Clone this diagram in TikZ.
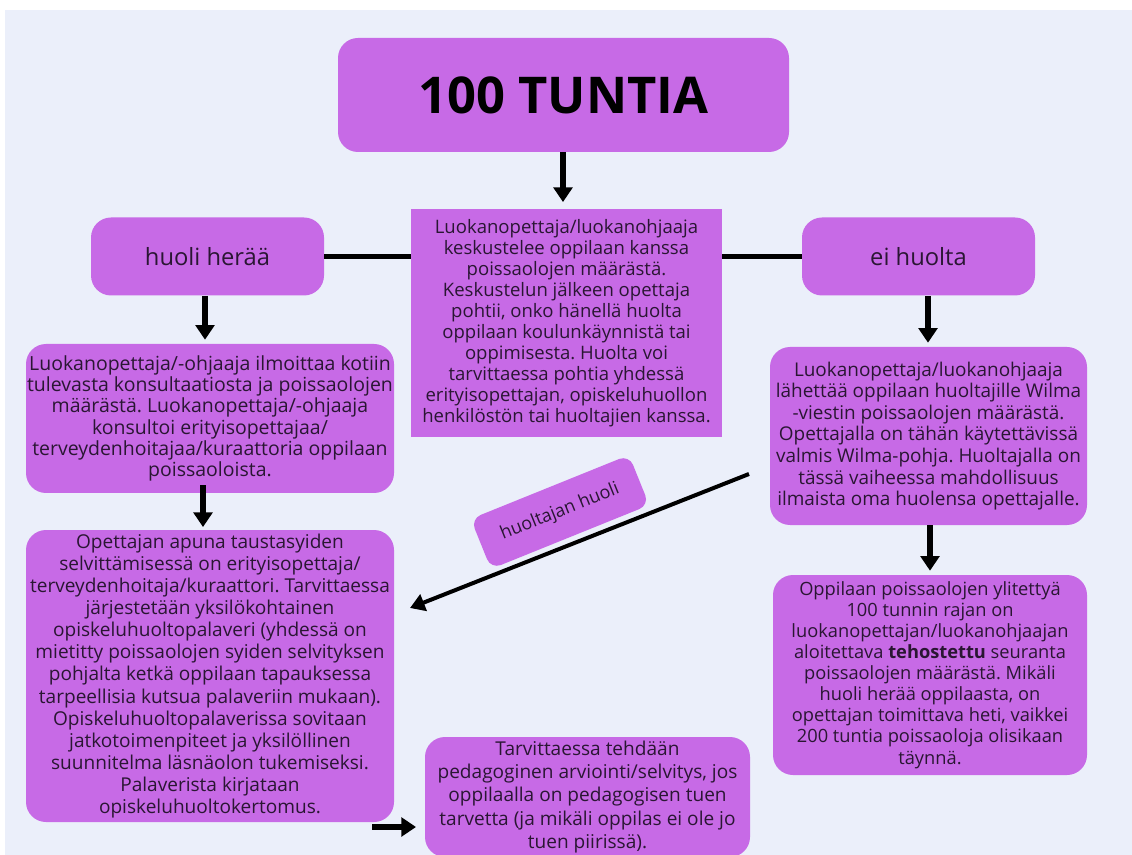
\documentclass[tikz,border=0pt]{standalone}
\usepackage{fontspec}
\setmainfont{Open Sans}
\usetikzlibrary{arrows.meta}
\definecolor{bg}{HTML}{EBEFFA}
\definecolor{boxfill}{HTML}{C76AE6}
\definecolor{txt}{HTML}{2A1633}
\frenchspacing
\tikzset{
  box/.style={fill=boxfill, rounded corners=15pt, align=center, text=txt, inner sep=0pt},
  sqbox/.style={fill=boxfill, align=center, text=txt, inner sep=0pt},
  conn/.style={line width=3.8pt, black},
  arr/.style={line width=3.8pt, black, -{Triangle[width=14pt,length=11pt]}},
  darr/.style={line width=3pt, black, -{Triangle[width=13pt,length=11pt]}},
}
\begin{document}
\begin{tikzpicture}[x=0.75pt,y=-0.75pt]
\useasboundingbox (0,0) rectangle (1132,855);
\fill[white] (0,0) rectangle (1132,855);
\fill[bg] (5,10) rectangle (1132,855);

\node[box, minimum width=338.25pt, minimum height=85.5pt, text=black,
  font={\fontsize{38}{44}\selectfont\bfseries}] (title) at (563.5,95) {100 TUNTIA};

\node[sqbox, minimum width=233.25pt, minimum height=171pt,
  font={\fontsize{13.9}{15.7}\selectfont}] (center) at (566.5,323)
  {Luokanopettaja/luokanohjaaja\\keskustelee oppilaan kanssa\\poissaolojen määrästä.\\Keskustelun jälkeen opettaja\\pohtii, onko hänellä huolta\\oppilaan koulunkäynnistä tai\\oppimisesta. Huolta voi\\tarvittaessa pohtia yhdessä\\erityisopettajan, opiskeluhuollon\\henkilöstön tai huoltajien kanssa.};

\node[box, minimum width=174.75pt, minimum height=58.5pt,
  font={\fontsize{17.8}{20}\selectfont}] (huoli) at (207.5,256.5) {huoli herää};
\node[box, minimum width=174.75pt, minimum height=58.5pt,
  font={\fontsize{17.8}{20}\selectfont}] (ei) at (918.5,256.5) {ei huolta};

\node[box, minimum width=276pt, minimum height=111.75pt,
  font={\fontsize{14.6}{16}\selectfont}] (L1) at (210,418.5)
  {Luokanopettaja/-ohjaaja ilmoittaa kotiin\\tulevasta konsultaatiosta ja poissaolojen\\määrästä. Luokanopettaja/-ohjaaja\\konsultoi erityisopettajaa/\\terveydenhoitajaa/kuraattoria oppilaan\\poissaoloista.};

\node[box, minimum width=276pt, minimum height=219pt,
  font={\fontsize{14.3}{16.6}\selectfont}] (L2) at (210,676)
  {Opettajan apuna taustasyiden\\selvittämisessä on erityisopettaja/\\terveydenhoitaja/kuraattori. Tarvittaessa\\järjestetään yksilökohtainen\\opiskeluhuoltopalaveri (yhdessä on\\mietitty poissaolojen syiden selvityksen\\pohjalta ketkä oppilaan tapauksessa\\tarpeellisia kutsua palaveriin mukaan).\\Opiskeluhuoltopalaverissa sovitaan\\jatkotoimenpiteet ja yksilöllinen\\suunnitelma läsnäolon tukemiseksi.\\Palaverista kirjataan\\opiskeluhuoltokertomus.};

\node[box, minimum width=237.75pt, minimum height=133.5pt,
  font={\fontsize{14.2}{16.2}\selectfont}] (R1) at (928.5,436)
  {Luokanopettaja/luokanohjaaja\\lähettää oppilaan huoltajille Wilma\\-viestin poissaolojen määrästä.\\Opettajalla on tähän käytettävissä\\valmis Wilma-pohja. Huoltajalla on\\tässä vaiheessa mahdollisuus\\ilmaista oma huolensa opettajalle.};

\node[box, minimum width=235.5pt, minimum height=150pt,
  font={\fontsize{13.7}{15.8}\selectfont}] (R2) at (930,675)
  {Oppilaan poissaolojen ylitettyä\\100 tunnin rajan on\\luokanopettajan/luokanohjaajan\\aloitettava \textbf{tehostettu} seuranta\\poissaolojen määrästä. Mikäli\\huoli herää oppilaasta, on\\opettajan toimittava heti, vaikkei\\200 tuntia poissaoloja olisikaan\\täynnä.};

\node[box, minimum width=243.75pt, minimum height=90pt,
  font={\fontsize{14.3}{17.5}\selectfont}] (B) at (587.5,797)
  {Tarvittaessa tehdään\\pedagoginen arviointi/selvitys, jos\\oppilaalla on pedagogisen tuen\\tarvetta (ja mikäli oppilas ei ole jo\\tuen piirissä).};

\node[box, rounded corners=8pt, rotate=22, minimum width=128pt, minimum height=40.5pt,
  font={\fontsize{13.5}{16}\selectfont}] (lab) at (560,512) {huoltajan huoli};

% connectors
\draw[conn] (huoli.east) -- (huoli.east -| center.west);
\draw[conn] (ei.west -| center.east) -- (ei.west);
\draw[arr, shorten >=5pt] (title.south -| 563,0) -- (center.north -| 563,0);
\draw[arr, shorten >=3pt] (huoli.south -| 205,0) -- (L1.north -| 205,0);
\draw[arr, shorten >=2pt, shorten <=-6pt] (L1.south -| 203,0) -- (L2.north -| 203,0);
\draw[arr, shorten >=3pt] (ei.south -| 928,0) -- (R1.north -| 928,0);
\draw[arr, shorten >=3pt] (R1.south -| 930,0) -- (R2.north -| 930,0);
\coordinate (dstart) at (749,474);
\coordinate (dend) at (410,608);
\draw[darr] (dstart) -- (dend);
\coordinate (bstart) at (372,827);
\coordinate (bend) at (416,827);
\draw[arr] (bstart) -- (bend);
\end{tikzpicture}
\end{document}
